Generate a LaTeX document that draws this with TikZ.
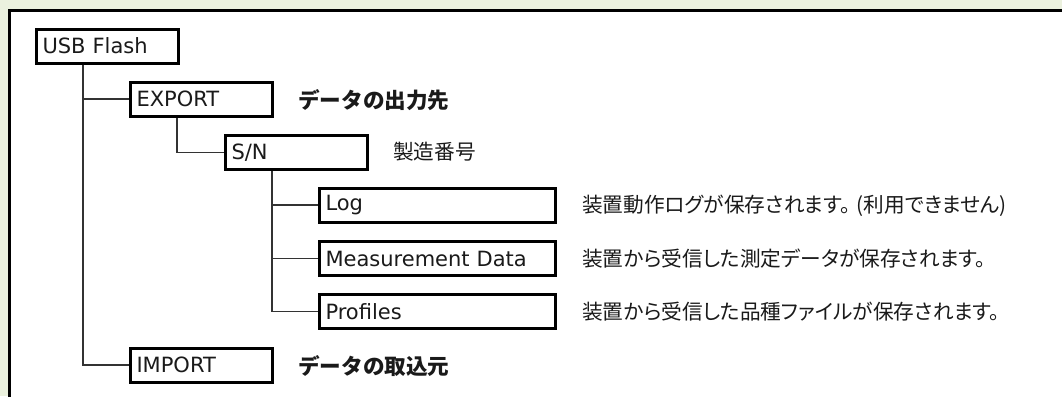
\documentclass[tikz,border=0pt]{standalone}
\usepackage{fontspec}
\setmainfont{DejaVu Sans}
\newfontfamily\jp[RawFeature=+palt]{Noto Sans CJK JP}
\newfontfamily\jpb{Noto Sans CJK JP}
\definecolor{bgreen}{HTML}{EBF1DE}
\definecolor{conncol}{HTML}{333333}
\definecolor{txt}{HTML}{1A1A1A}
\begin{document}
\begin{tikzpicture}[x=0.75pt,y=-0.75pt,
  box/.style={draw=black, line width=2.25pt, fill=white, anchor=west,
    minimum height=25.5pt, inner xsep=4.5pt, inner ysep=0pt,
    text width=97.5pt, align=left, text=txt,
    font=\fontsize{15.75}{18}\selectfont},
  widebox/.style={box, text width=168pt},
  conn/.style={draw=conncol, line width=1.1pt},
  desc/.style={anchor=west, inner sep=0pt, text=txt,
    font=\jp\fontsize{15.5}{18}\selectfont},
  bdesc/.style={desc, font=\jpb\bfseries\fontsize{16.2}{18}\selectfont}]
\useasboundingbox (0,0) rectangle (1062,396);
\fill[bgreen] (0,0) rectangle (1062,396);
\draw[line width=2.25pt, fill=white] (9.5,10.5) rectangle (1080,410);

\node[box] (usb) at (35,46) {USB Flash};
\node[box] (export) at (129,99) {EXPORT};
\node[box] (sn) at (224,152.5) {S/N};
\node[widebox] (log) at (318,205) {Log};
\node[widebox] (md) at (318,258.5) {Measurement Data};
\node[widebox] (prof) at (318,311.5) {Profiles};
\node[box] (import) at (129,365) {IMPORT};

\draw[conn] ([xshift=36pt]usb.south west) |- (export.west);
\draw[conn] ([xshift=36pt]usb.south west) |- (import.west);
\draw[conn] ([xshift=36pt]export.south west) |- (sn.west);
\draw[conn] ([xshift=36pt]sn.south west) |- (log.west);
\draw[conn] ([xshift=36pt]sn.south west) |- (md.west);
\draw[conn] ([xshift=36pt]sn.south west) |- (prof.west);

\node[bdesc] (dexport) at (298,100) {データの出力先};
\node[desc] (dsn) at (393,152) {製造番号};
\node[desc] (dlog) at (582,206) {装置動作ログが保存されます。\hspace{0.3em}(利用できません)};
\node[desc] (dmd) at (582,259) {装置から受信した測定データが保存されます。};
\node[desc] (dprof) at (582,312) {装置から受信した品種ファイルが保存されます。};
\node[bdesc] (dimport) at (298,366) {データの取込元};
\end{tikzpicture}
\end{document}
